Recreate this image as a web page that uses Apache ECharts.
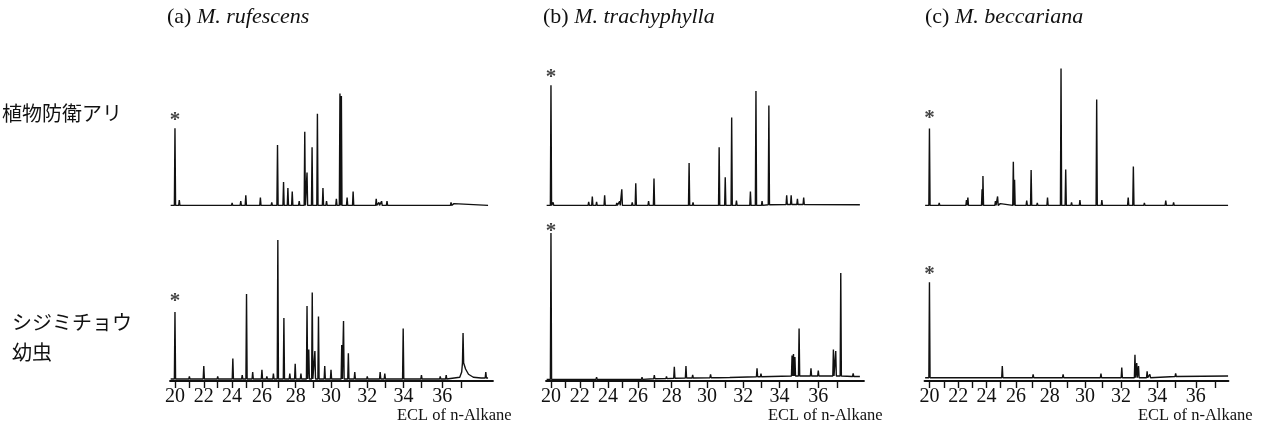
<!DOCTYPE html>
<html>
<head>
<meta charset="utf-8">
<script src="https://cdn.jsdelivr.net/npm/echarts@6/dist/echarts.min.js"></script>
<style>
html, body { margin: 0; background: #fff; }
#chart { width: 1262px; height: 429px; }
</style>
</head>
<body>
<div id="chart"></div>
<script>
// ECL ticks and where they fall in retention units (the GC axis is not linear in ECL)
var tickECL = [20, 21, 22, 23, 24, 25, 26, 27, 28, 29, 30, 31, 32, 33, 34, 35, 36, 37, 38, 39];
var tickRT = [0, 14.5, 29, 43, 57.5, 72, 87.5, 104, 121.5, 139, 157, 175, 193.5, 211.5, 230, 248, 269, 288.5, 308, 327];
var tickShown = [20, 21, 22, 23, 24, 25, 26, 27, 28, 29, 30, 31, 32, 33, 34, 35, 36, 37];
var labelECL = [20, 22, 24, 26, 28, 30, 32, 34, 36];

var panelTags = ['(a) ', '(b) ', '(c) '];
var species = ['M. rufescens', 'M. trachyphylla', 'M. beccariana'];
var rowNames = ['植物防衛アリ', 'シジミチョウ\n幼虫'];
var axisName = 'ECL of n-Alkane';

// peaks: [ECL, top] or [ECL, top, foot]; foot == top is a plain baseline point
var antA = [[19.7, 0.5, 0.5], [20.0, 65], [20.3, 5], [21.3, 1.5], [22.9, 2], [23.2, 2], [23.8, 2], [24.0, 2.5],
  [24.6, 4], [24.95, 9], [25.9, 7], [26.6, 3], [26.95, 51], [27.3, 20], [27.55, 15], [27.8, 12], [28.2, 4],
  [28.52, 62], [28.65, 28], [28.94, 49], [29.24, 77], [29.55, 15], [29.75, 4], [30.3, 6], [30.5, 94],
  [30.58, 92], [30.9, 7], [31.23, 12], [32.5, 6], [32.65, 3], [32.8, 4], [33.1, 4], [35.5, 1.5],
  [36.45, 3], [36.6, 2], [38.37, 0.5, 0.5]];
var larvaA = [[19.7, 1.3, 1.3], [20.0, 46], [21.0, 3], [22.0, 10], [23.0, 3], [24.05, 15], [24.7, 4], [25.0, 58],
  [25.4, 6], [26.0, 7.5], [26.3, 3], [26.7, 5], [26.97, 94], [27.32, 42], [27.66, 5], [27.97, 11.5], [28.3, 5],
  [28.65, 50], [28.75, 21], [28.95, 59], [29.1, 20], [29.3, 43], [29.65, 10], [30.0, 7.5], [30.6, 24],
  [30.7, 40], [30.97, 18.5], [31.32, 6], [32.0, 3], [32.72, 6], [32.98, 5], [33.98, 35], [35.0, 4],
  [35.9, 3], [36.2, 4], [36.9, 2.5, 2.5], [37.0, 6, 6], [37.07, 32, 12], [37.2, 8, 8], [37.35, 4.5, 4.5],
  [37.6, 2.5, 2.5], [38.0, 2, 2], [38.25, 6, 2], [38.37, 2, 2]];

var antB = [[19.7, 0.5, 0.5], [20.0, 101], [20.15, 3], [21.65, 1.5], [22.64, 3.5], [22.9, 8], [23.2, 3.5],
  [23.76, 9], [24.6, 2.5], [24.8, 4], [24.95, 14], [25.63, 3], [25.86, 19], [26.65, 4], [26.98, 23],
  [27.67, 2], [29.0, 36], [29.22, 3], [29.93, 2], [30.68, 49], [31.02, 24], [31.37, 74], [31.63, 4.5],
  [32.4, 12], [32.71, 96], [33.05, 4], [33.42, 84, 1], [34.4, 9, 1.2], [34.65, 9, 1.2], [35.0, 6, 1.2],
  [35.3, 7, 1.2], [38.15, 1, 1]];
var larvaB = [[19.7, 1.1, 1.1], [20.0, 98.7], [23.2, 2.5], [24.76, 2], [26.25, 2.5], [27.0, 4, 1.5],
  [27.7, 3, 1.6], [28.15, 9.5, 1.8], [28.82, 10, 2], [29.2, 4, 2], [30.2, 4.5, 2.2], [30.67, 3.5, 2.2],
  [31.3, 3, 2.3], [32.77, 8.5, 2.8], [32.99, 5, 2.8], [34.7, 17, 3.3], [34.78, 18, 3.3], [34.86, 16, 3.3],
  [35.08, 35, 3.3], [35.65, 8.5, 3.3], [36.0, 7, 3.3], [36.78, 21, 3.3], [36.9, 20, 3.3], [37.16, 72, 3.3],
  [37.8, 5, 3], [38.15, 3, 3]];

var antC = [[19.7, 0.5, 0.5], [20.0, 64.7], [20.68, 2.5], [21.64, 1.5], [21.87, 1.5], [22.6, 5], [22.7, 7],
  [23.7, 14], [23.76, 25], [24.63, 4], [24.78, 8], [24.97, 2], [25.82, 37], [25.9, 22], [26.65, 4.5],
  [26.92, 30], [27.28, 2.5], [27.87, 7], [28.65, 115], [28.92, 30.5], [29.25, 3], [29.72, 5], [30.66, 89],
  [30.95, 5], [32.4, 7], [32.69, 33], [33.3, 2.5], [34.48, 4.5], [34.92, 3], [37.67, 0.5, 0.5]];
var larvaC = [[19.7, 2.2, 2.2], [20.0, 65.8], [25.1, 10], [27.04, 4.5], [28.77, 4.5], [29.8, 3], [30.9, 5],
  [32.04, 9], [32.78, 17.5], [32.88, 12], [32.98, 10], [33.45, 6.5], [33.6, 4.5], [35.03, 5, 3],
  [37.67, 3.3, 3.3]];

// "*" marks over the ECL 20 standard, [top row, bottom row]
var starA = [75.8, 56];
var starB = [111.7, 102.7];
var starC = [77.5, 74.5];

function toRT(e) {
  var i = 0;
  while (i < tickECL.length - 2 && e > tickECL[i + 1]) i++;
  var t = (e - tickECL[i]) / (tickECL[i + 1] - tickECL[i]);
  return tickRT[i] + t * (tickRT[i + 1] - tickRT[i]);
}

function trace(peaks, foot) {
  var pts = [];
  peaks.forEach(function (p) {
    var x = toRT(p[0]);
    var f = p.length > 2 ? p[2] : foot;
    if (p[1] === f) { pts.push([x, f]); return; }
    pts.push([x - 0.6, f], [x, p[1]], [x + 0.6, f]);
  });
  return pts;
}

var serif = '"Liberation Serif", "Times New Roman", serif';
var panelLeft = [170, 546, 924.5];
var panelWidth = [323, 318, 304];
var panelMax = [320, 315, 302];
var rowTop = [66, 223.5];
var rowHeight = [140, 157.5];
var rowMax = [117, 105];

var traces = [
  [antA, 0.5], [antB, 0.5], [antC, 0.5],
  [larvaA, 1.3], [larvaB, 1.1], [larvaC, 2.2]
];
var stars = [starA, starB, starC];

var grids = [], xAxes = [], yAxes = [], series = [];
traces.forEach(function (tr, k) {
  var row = k < 3 ? 0 : 1, col = k % 3;
  grids.push({ left: panelLeft[col], width: panelWidth[col], top: rowTop[row], height: rowHeight[row] });
  xAxes.push({
    gridIndex: k, type: 'value', min: -5, max: panelMax[col], show: row === 1,
    splitLine: { show: false },
    axisLine: { show: true, onZero: false, lineStyle: { color: '#111', width: 1.8 } },
    axisTick: {
      show: true, inside: false, length: 7, lineStyle: { color: '#111', width: 1.4 },
      customValues: tickShown.map(toRT)
    },
    axisLabel: {
      show: true, margin: 6, color: '#111', fontFamily: serif, fontSize: 20,
      customValues: labelECL.map(toRT),
      formatter: function (v) {
        var best = 0;
        tickRT.forEach(function (r, i) { if (Math.abs(r - v) < Math.abs(tickRT[best] - v)) best = i; });
        return String(tickECL[best]);
      }
    }
  });
  yAxes.push({ gridIndex: k, type: 'value', min: 0, max: rowMax[row], show: false, splitLine: { show: false } });
  series.push({
    type: 'line', xAxisIndex: k, yAxisIndex: k, data: trace(tr[0], tr[1]),
    showSymbol: false, silent: true, animation: false,
    lineStyle: { color: '#111', width: 1.4 }
  });
  series.push({
    type: 'scatter', xAxisIndex: k, yAxisIndex: k, data: [[toRT(20), stars[col][row]]],
    symbolSize: 1, itemStyle: { color: 'rgba(0,0,0,0)' }, silent: true, animation: false,
    label: {
      show: true, position: 'inside', formatter: '*', offset: [0, 5],
      color: '#111', fontFamily: serif, fontSize: 21, fontWeight: 'bold'
    }
  });
});

var titles = [];
panelTags.forEach(function (tag, i) {
  titles.push({
    text: '{n|' + tag + '}{i|' + species[i] + '}', left: [167, 543, 925][i], top: 6, padding: 0,
    textStyle: { rich: {
      n: { fontFamily: serif, fontSize: 22, fontWeight: 'normal', color: '#111' },
      i: { fontFamily: serif, fontSize: 22, fontWeight: 'normal', fontStyle: 'italic', color: '#111' }
    } }
  });
  titles.push({
    text: axisName, left: [397, 768, 1138][i], top: 407, padding: 0,
    textStyle: { fontFamily: serif, fontSize: 16.5, fontWeight: 'normal', color: '#111' }
  });
});
titles.push({
  text: rowNames[0], left: 2, top: 98, padding: 0,
  textStyle: { fontFamily: '"Noto Sans CJK JP"', fontSize: 20, fontWeight: 'normal', color: '#111', lineHeight: 30 }
});
titles.push({
  text: rowNames[1], left: 12, top: 307, padding: 0,
  textStyle: { fontFamily: '"Noto Sans CJK JP"', fontSize: 20, fontWeight: 'normal', color: '#111', lineHeight: 30 }
});

var myChart = echarts.init(document.getElementById('chart'));
myChart.setOption({
  animation: false,
  backgroundColor: '#fff',
  title: titles,
  grid: grids,
  xAxis: xAxes,
  yAxis: yAxes,
  series: series
});
</script>
</body>
</html>
